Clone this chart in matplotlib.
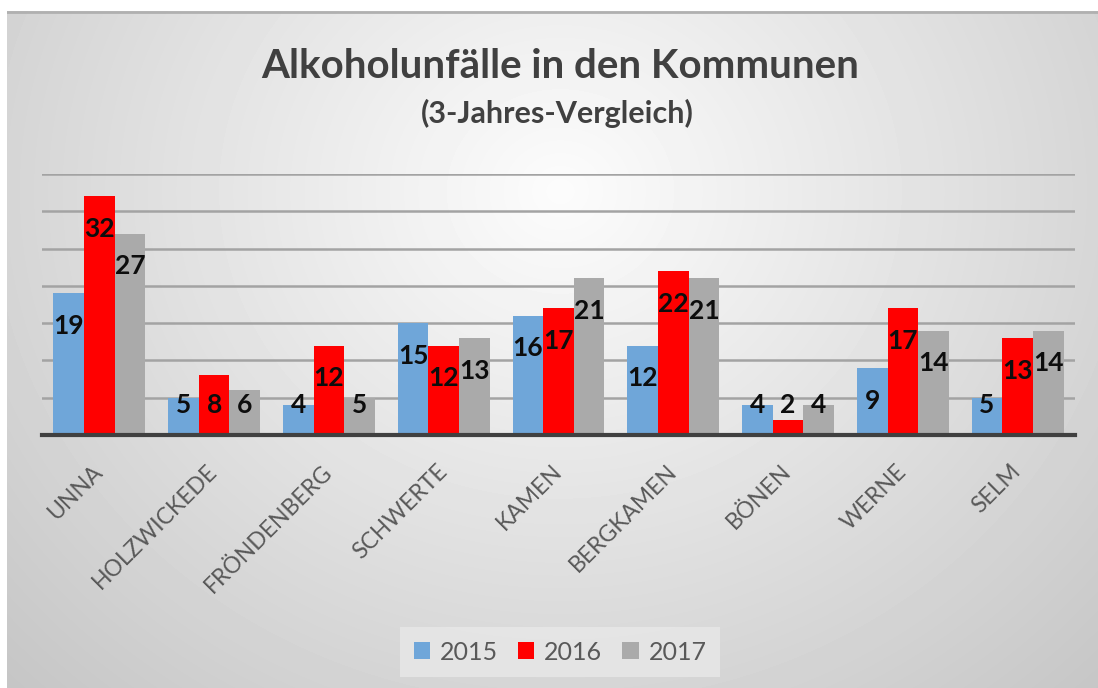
import matplotlib
matplotlib.use('Agg')
import matplotlib.pyplot as plt
import numpy as np

# Daten
kommunen = ['UNNA', 'HOLZWICKEDE', 'FRÖNDENBERG', 'SCHWERTE', 'KAMEN',
            'BERGKAMEN', 'BÖNEN', 'WERNE', 'SELM']
jahre = ['2015', '2016', '2017']
werte_2015 = [19, 5, 4, 15, 16, 12, 4, 9, 5]
werte_2016 = [32, 8, 12, 12, 17, 22, 2, 17, 13]
werte_2017 = [27, 6, 5, 13, 21, 21, 4, 14, 14]
farben = ['#6fa6d9', '#ff0000', '#aaaaaa']

plt.rcParams['font.family'] = ['Lato', 'DejaVu Sans']

W, H = 1098, 688
fig = plt.figure(figsize=(W / 100, H / 100), dpi=100, facecolor='white')

# Hintergrund mit radialem Verlauf
bg = fig.add_axes([7 / W, 0, 1 - 7 / W, 677 / H], zorder=-10)
yy, xx = np.mgrid[0:677, 0:1091]
dx = (xx - 553) / 600
dy = (yy - 180) / 540
r = np.sqrt(dx ** 2 + dy ** 2)
grau = np.clip(252 - 42 * r, 190, 252) / 255
bg.imshow(grau, cmap='gray', vmin=0, vmax=1, aspect='auto', interpolation='bilinear')
bg.axhline(0, color='#b0b0b0', lw=2)
bg.set_axis_off()

# Diagramm
ax = fig.add_axes([42 / W, (H - 435) / H, 1033 / W, 261 / H])
ax.patch.set_alpha(0)
x = np.arange(len(kommunen))
bw = 0.267
for i, (werte, farbe, jahr) in enumerate(zip([werte_2015, werte_2016, werte_2017], farben, jahre)):
    pos = x + (i - 1) * bw
    ax.bar(pos, werte, width=bw, color=farbe, label=jahr, zorder=3)
    for px, v in zip(pos, werte):
        ax.text(px, max(v - 4.4, 4.0), str(v), ha='center', va='center',
                fontsize=19, fontweight='bold', color='#0d0d0d', zorder=4)

ax.set_xlim(-0.5, len(kommunen) - 0.5)
ax.set_ylim(0, 35)
ax.set_yticks(np.arange(5, 36, 5))
ax.yaxis.grid(True, color='#a3a3a3', lw=1.8, zorder=0)
ax.set_yticklabels([])
ax.tick_params(axis='y', length=0)
ax.tick_params(axis='x', length=0, pad=24)
for s in ['top', 'right', 'left']:
    ax.spines[s].set_visible(False)
ax.spines['bottom'].set_color('#404040')
ax.spines['bottom'].set_linewidth(3)
ax.spines['bottom'].set_zorder(5)
ax.set_xticks(x)
ax.set_xticklabels(kommunen, rotation=45, ha='right', va='center',
                   rotation_mode='anchor', fontsize=16.5, color='#595959')

# Titel
fig.text(560 / W, 1 - 67 / H, 'Alkoholunfälle in den Kommunen', ha='center', va='center',
         fontsize=29, fontweight='bold', color='#404040')
fig.text(557 / W, 1 - 113 / H, '(3-Jahres-Vergleich)', ha='center', va='center',
         fontsize=22, fontweight='bold', color='#404040')

# Legende
leg = fig.legend(loc='center', bbox_to_anchor=(560 / W, 1 - 652 / H), ncol=3,
                 fontsize=18, frameon=True, handlelength=0.65, handleheight=0.65,
                 handletextpad=0.4, columnspacing=0.8, borderpad=0.55, fancybox=False)
leg.get_frame().set_facecolor('#e8e8e8')
leg.get_frame().set_edgecolor('none')
for t in leg.get_texts():
    t.set_color('#595959')

fig.savefig('out.png', dpi=100)
